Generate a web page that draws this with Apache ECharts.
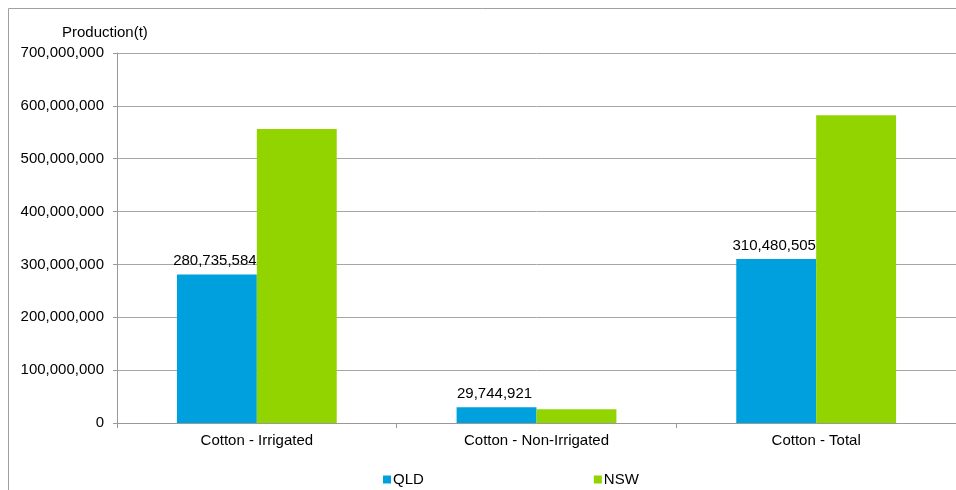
<!DOCTYPE html>
<html><head><meta charset="utf-8">
<script src="https://cdn.jsdelivr.net/npm/echarts@6/dist/echarts.min.js"></script>
<style>html,body{margin:0;padding:0;background:#fff}#c{width:956px;height:490px}</style>
</head><body><div id="c"></div>
<script>
const categories = ['Cotton - Irrigated', 'Cotton - Non-Irrigated', 'Cotton - Total'];
const qldValues = [280735584, 29744921, 310480505];
const nswValues = [556300000, 26100000, 582400000];
const seriesNames = ['QLD', 'NSW'];
const yAxisTitle = 'Production(t)';

const font = 'Liberation Sans, Arial, sans-serif';
const fs = 15;
const chart = echarts.init(document.getElementById('c'), null, {renderer: 'canvas'});
const fmt = v => Math.round(v).toLocaleString('en-US');
chart.setOption({
  animation: false,
  textStyle: {fontFamily: font},
  graphic: [{
    type: 'rect', silent: true,
    shape: {x: 8.5, y: 8.5, width: 1200, height: 1200},
    style: {fill: 'none', stroke: '#a0a0a0', lineWidth: 1}
  }, {
    type: 'text', left: 62, top: 25,
    style: {text: yAxisTitle, font: fs + 'px ' + font, fill: '#000'}
  }],
  grid: {left: 117, right: -1, top: 53, bottom: 67, containLabel: false},
  legend: {
    top: 472, left: 383, padding: 0,
    itemWidth: 8, itemHeight: 8, itemGap: 170,
    icon: 'rect',
    textStyle: {fontSize: fs, color: '#000', fontFamily: font, padding: [0, 0, 0, -3]},
    data: seriesNames
  },
  xAxis: {
    type: 'category', data: categories,
    axisLine: {lineStyle: {color: '#999', width: 1}},
    axisTick: {show: true, length: 5, lineStyle: {color: '#999'}},
    axisLabel: {fontSize: fs, color: '#000', margin: 10, fontFamily: font}
  },
  yAxis: {
    type: 'value', min: 0, max: 700000000, interval: 100000000,
    axisLine: {show: true, lineStyle: {color: '#999'}},
    axisTick: {show: true, length: 4, lineStyle: {color: '#999'}},
    axisLabel: {fontSize: fs, color: '#000', margin: 13, fontFamily: font, formatter: fmt},
    splitLine: {lineStyle: {color: '#a6a6a6', width: 1}}
  },
  series: [{
    name: seriesNames[0], type: 'bar', data: qldValues,
    itemStyle: {color: '#00A0DE'},
    barGap: '0%', barCategoryGap: '42.86%',
    label: {show: true, position: 'top', distance: 6, offset: [-2, 0], fontSize: fs, color: '#000', fontFamily: font, formatter: p => fmt(p.value)}
  }, {
    name: seriesNames[1], type: 'bar', data: nswValues,
    itemStyle: {color: '#92D400'},
    barGap: '0%', barCategoryGap: '42.86%'
  }]
});
</script></body></html>
